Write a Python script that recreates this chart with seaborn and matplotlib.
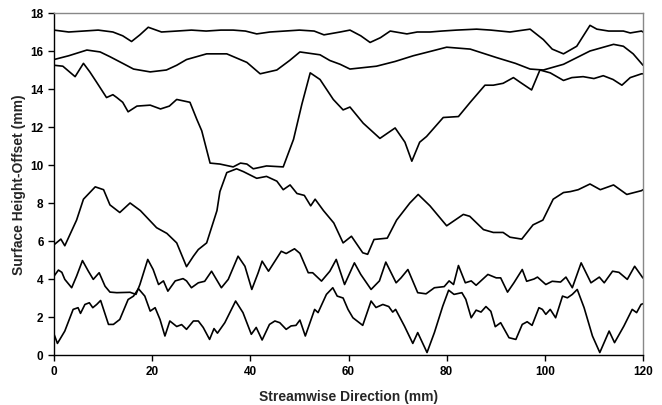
import matplotlib
matplotlib.use("Agg")
import matplotlib.pyplot as plt
import pandas as pd
import seaborn as sns

# Surface profiles (streamwise position in mm, height-offset in mm)
x_a = [0, 3, 6, 9, 12, 14, 15.8, 17.5, 19.2, 21.9, 25, 28, 31, 34, 36.5, 39, 41.3, 44, 47, 50, 53, 55, 58.3,
       60.3, 62.5, 64.4, 66.5, 68.5, 71.9, 74, 76.6, 79, 82, 86.1, 89, 92.9, 97, 99.7, 101.5, 103.8, 106.5, 109.2,
       110.6, 113, 116, 117.4, 119.7, 120]
y_a = [17.1, 17.0, 17.05, 17.1, 17.0, 16.8, 16.5, 16.85, 17.25, 17.0, 17.05, 17.1, 17.05, 17.1, 17.1, 17.05, 16.9,
       17.0, 17.05, 17.1, 17.05, 16.85, 17.0,
       17.1, 16.8, 16.45, 16.7, 17.05, 16.9, 17.0, 17.0, 17.05, 17.1, 17.15, 17.1, 17.0, 17.15, 16.6, 16.1, 15.85,
       16.25, 17.35, 17.15, 17.05, 17.05, 16.95, 17.05, 17.0]

x_b = [0, 3, 6.7, 9.4, 11.4, 14, 16.2, 19.6, 22.9, 25, 27, 31.1, 35.2, 39.3, 42, 45.4, 48, 50.1, 54.2, 56.2, 58.3,
       60.3, 65.7, 69.5, 73.2, 77, 80, 84.8, 90.2, 94, 97, 99.7, 103.8, 106.5, 109.2, 114, 116, 118, 120]
y_b = [15.55, 15.75, 16.05, 15.95, 15.7, 15.35, 15.05, 14.9, 15.0, 15.25, 15.55, 15.85, 15.85, 15.4, 14.8, 15.0,
       15.5, 15.95, 15.8, 15.5, 15.3,
       15.05, 15.2, 15.45, 15.75, 16.0, 16.2, 16.1, 15.65, 15.35, 15.05, 15.0, 15.3, 15.65, 16.0, 16.35, 16.25,
       15.85, 15.25]

x_c = [0, 1.8, 4.3, 6.0, 7.3, 8.7, 10.7, 12.0, 12.8, 14.0, 15.1, 16.9, 19.6, 21.7, 23.5, 25.0, 27.7, 29.1, 30.1,
       31.0, 31.8, 33.8, 36.5, 38.0, 39.3, 40.6, 43.3, 46.7, 48.8, 50.5, 52.2, 54.2, 56.9, 58.9, 60.3, 63.0, 66.4,
       69.5, 71.5, 72.9, 74.5, 75.9, 79.3, 82.4, 84.8, 87.8, 89.5, 91.5, 93.6, 95.0, 97.3, 99.0, 101.1, 103.8,
       105.5, 107.8, 110, 111.9, 113.9, 115.7, 117.4, 119.7, 120]
y_c = [15.25, 15.2, 14.65, 15.35, 14.9, 14.35, 13.55, 13.7, 13.55, 13.3, 12.8, 13.1, 13.15, 12.95, 13.1, 13.45, 13.3,
       12.4, 11.8, 10.9, 10.1, 10.05, 9.9, 10.1, 10.05, 9.8, 9.95, 9.9, 11.35, 13.2, 14.85, 14.5, 13.45, 12.9, 13.05,
       12.2, 11.4, 11.95, 11.2, 10.2, 11.2, 11.5, 12.5, 12.55, 13.3, 14.2, 14.2, 14.3, 14.6, 14.35, 13.95, 15.0,
       14.85, 14.45, 14.6, 14.65, 14.55, 14.7, 14.5, 14.2, 14.6, 14.8, 14.8]

x_d = [0, 1.4, 2.2, 4.6, 6.0, 8.4, 10.1, 11.4, 13.4, 15.5, 17.6, 20.9, 23.0, 25.0, 27.0, 28.4, 29.4, 31.1, 33.2,
       33.8, 35.2, 37.2, 38.6, 41.3, 43.3, 45.4, 46.7, 48.1, 49.5, 51.0, 52.3, 53.2, 54.9, 57.0, 58.9, 60.6, 62.9,
       63.9, 65.2, 67.9, 69.8, 72.5, 74.2, 76.6, 80.0, 83.4, 84.7, 87.5, 89.5, 91.5, 92.9, 95.3, 97.6, 99.6, 101.7,
       103.8, 105.2, 106.8, 109.2, 111.3, 114.0, 116.7, 119.7, 120]
y_d = [5.8, 6.1, 5.75, 7.1, 8.2, 8.85, 8.7, 7.9, 7.5, 8.0, 7.6, 6.7, 6.4, 5.9, 4.65, 5.2, 5.55, 5.9, 7.6,
       8.6, 9.6, 9.8, 9.65, 9.3, 9.4, 9.15, 8.7, 8.95, 8.5, 8.4, 7.85, 8.2, 7.6, 6.95, 5.9, 6.25, 5.38,
       5.3, 6.08, 6.15, 7.1, 8.0, 8.45, 7.85, 6.8, 7.4, 7.3, 6.6, 6.45, 6.45, 6.2, 6.1, 6.85, 7.1, 8.2,
       8.55, 8.6, 8.7, 9.0, 8.7, 8.95, 8.45, 8.65, 8.7]

x_e = [0, 0.9, 1.6, 2.2, 3.6, 4.6, 5.8, 7.0, 8.0, 9.2, 10.4, 11.4, 12.8, 15.5, 16.7, 17.5, 19.1, 20.2, 21.3,
       22.3, 23.2, 24.7, 26.3, 27.0, 28.0, 29.4, 30.7, 32.1, 34.1, 35.5, 37.5, 38.9, 40.3, 41.6, 42.4, 43.7,
       46.3, 47.3, 49.0, 50.1, 51.8, 52.7, 54.5, 56.2, 57.5, 59.2, 61.2, 62.5, 64.6, 66.3, 67.6, 69.7, 70.7,
       72.1, 74.1, 75.8, 77.5, 79.5, 80.5, 81.4, 82.4, 83.8, 85.0, 86.0, 88.4, 90.1, 91.0, 92.4, 93.7, 95.4,
       96.3, 97.8, 98.5, 100.2, 101.5, 103.2, 104.3, 105.6, 107.4, 109.4, 111.1, 112.1, 113.8, 115.1, 116.8,
       118.3, 119.8, 120]
y_e = [4.15, 4.47, 4.35, 3.98, 3.54, 4.15, 4.97, 4.41, 3.98, 4.33, 3.62, 3.31, 3.28, 3.3, 3.19, 3.71, 5.03,
       4.5, 3.71, 3.9, 3.36, 3.9, 4.02, 3.9, 3.54, 3.8, 3.88, 4.41, 3.54, 3.98, 5.2, 4.67, 3.45, 4.33, 4.94,
       4.41, 5.46, 5.34, 5.59, 5.35, 4.33, 4.33, 3.89, 4.41, 5.03, 3.71, 4.85, 4.24, 3.45, 3.9, 4.89, 3.8,
       4.06, 4.5, 3.28, 3.22, 3.54, 3.6, 3.9, 3.71, 4.71, 3.8, 3.9, 3.67, 4.24, 4.06, 4.06, 3.31, 3.8, 4.5,
       3.88, 4.0, 4.1, 3.71, 3.88, 3.84, 4.1, 3.54, 4.85, 3.8, 4.1, 3.8, 4.41, 4.35, 3.98, 4.67, 4.12, 4.05]

x_f = [0, 0.7, 2.2, 3.9, 4.9, 5.4, 6.3, 7.2, 7.9, 8.7, 9.5, 11.1, 12.1, 13.4, 15.1, 16.2, 17.2, 18.5, 19.6,
       20.6, 21.6, 22.6, 23.6, 25.0, 26.0, 27.0, 28.4, 29.4, 30.4, 31.7, 32.6, 33.3, 34.8, 37.0, 38.5, 40.2,
       41.2, 42.4, 43.9, 45.0, 46.0, 47.3, 48.3, 49.3, 50.1, 51.2, 53.1, 53.8, 55.5, 56.8, 57.7, 58.9, 59.9,
       60.9, 62.9, 64.6, 65.6, 67.0, 68.2, 69.0, 69.6, 71.4, 73.1, 74.1, 76.0, 77.5, 79.2, 80.4, 81.5, 83.1,
       83.9, 85.0, 86.0, 87.0, 88.0, 89.0, 89.9, 91.0, 92.7, 94.1, 95.4, 96.4, 97.4, 98.8, 99.5, 100.2, 101.1,
       102.2, 103.6, 104.6, 105.6, 106.6, 108.0, 109.7, 111.2, 113.1, 114.2, 116.1, 117.8, 118.7, 119.6, 120]
y_f = [1.1, 0.61, 1.26, 2.4, 2.49, 2.19, 2.66, 2.75, 2.49, 2.66, 2.87, 1.61, 1.61, 1.87, 2.92, 3.1, 3.49,
       3.1, 2.31, 2.49, 1.87, 1.0, 1.79, 1.5, 1.6, 1.35, 1.79, 1.79, 1.45, 0.82, 1.39, 1.15, 1.7, 2.84, 2.23,
       1.09, 1.45, 0.79, 1.61, 1.79, 1.7, 1.35, 1.53, 1.56, 1.84, 1.0, 2.4, 2.23, 3.19, 3.54, 3.1, 3.0, 2.4,
       1.96, 1.56, 2.84, 2.5, 2.66, 2.55, 2.26, 2.4, 1.52, 0.61, 1.18, 0.13, 1.18, 2.57, 3.41, 3.19, 3.28,
       2.93, 1.96, 2.36, 2.26, 2.55, 2.3, 1.49, 1.7, 0.91, 0.82, 1.61, 1.75, 1.56, 2.49, 2.4, 2.14, 2.4,
       1.96, 3.1, 3.01, 3.19, 3.45, 2.49, 1.0, 0.13, 1.26, 0.65, 1.52, 2.4, 2.23, 2.66, 2.7]

x_ticks = [0, 20, 40, 60, 80, 100, 120]
y_ticks = [0, 2, 4, 6, 8, 10, 12, 14, 16, 18]

profiles = [(x_a, y_a), (x_b, y_b), (x_c, y_c), (x_d, y_d), (x_e, y_e), (x_f, y_f)]
df = pd.concat(
    [pd.DataFrame({"x": xs, "y": ys, "profile": i}) for i, (xs, ys) in enumerate(profiles)],
    ignore_index=True,
)

sns.set_style("ticks")
plt.rcParams["font.family"] = ["Liberation Sans", "DejaVu Sans"]
plt.rcParams["font.weight"] = "bold"

fig = plt.figure(figsize=(6.62, 4.06), dpi=100)
ax = fig.add_axes([54 / 662, 1 - 356 / 406, (643 - 54) / 662, (356 - 14) / 406])

sns.lineplot(data=df, x="x", y="y", units="profile", estimator=None, sort=False,
             color="black", linewidth=1.2, ax=ax)

ax.set_xlim(0, 120)
ax.set_ylim(0, 18)
ax.set_xticks(x_ticks)
ax.set_yticks(y_ticks)
ax.tick_params(axis="both", direction="out", length=4, width=1, labelsize=8.5, colors="black")
for lab in ax.get_xticklabels() + ax.get_yticklabels():
    lab.set_fontweight("bold")

ax.set_xlabel("Streamwise Direction (mm)", fontsize=10, fontweight="bold", labelpad=8)
ax.set_ylabel("Surface Height-Offset (mm)", fontsize=10, fontweight="bold", labelpad=3)

for side in ("left", "bottom"):
    ax.spines[side].set_color("black")
    ax.spines[side].set_linewidth(1.0)
for side in ("top", "right"):
    ax.spines[side].set_visible(True)
    ax.spines[side].set_color("#888888")
    ax.spines[side].set_linestyle((0, (1, 1)))
    ax.spines[side].set_linewidth(1.0)

fig.savefig("out.png", dpi=100)
